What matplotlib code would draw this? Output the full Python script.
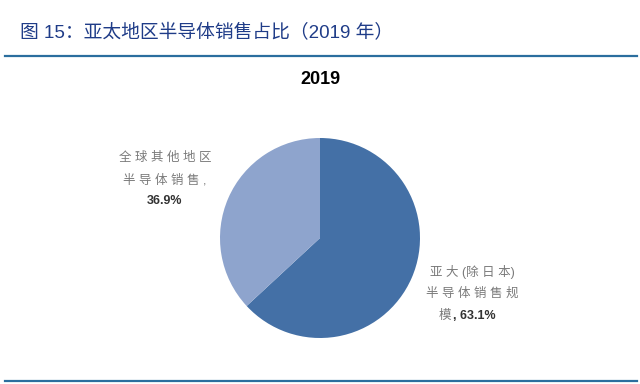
import matplotlib.pyplot as plt
from matplotlib.lines import Line2D

plt.rcParams['font.family'] = ['Liberation Sans', 'Noto Sans CJK SC', 'DejaVu Sans']

# 数据
regions = ['亚太(除日本)半导体销售规模', '全球其他地区半导体销售']
shares = [63.1, 36.9]
colors = ['#4470A6', '#8EA4CD']
year = '2019'

W, H = 640, 384
fig = plt.figure(figsize=(W / 100, H / 100), dpi=100)

# 标题及分隔线
fig.text(20 / W, 1 - 33 / H, '图 15：亚太地区半导体销售占比（2019 年）',
         fontsize=13.5, color='#1F3C88', va='center', ha='left')
fig.add_artist(Line2D([5 / W, 637 / W], [1 - 56 / H, 1 - 56 / H],
                      color='#2B6E9E', lw=1.6))
fig.add_artist(Line2D([5 / W, 637 / W], [1 - 381 / H, 1 - 381 / H],
                      color='#2B6E9E', lw=1.6))

# 饼图
cx, cy, r = 320, 238, 100
ax = fig.add_axes([(cx - r) / W, 1 - (cy + r) / H, 2 * r / W, 2 * r / H])
ax.pie(shares, colors=colors, startangle=90, counterclock=False,
       wedgeprops=dict(linewidth=0))
ax.set_xlim(-1, 1)
ax.set_ylim(-1, 1)
ax.set_aspect('equal')
ax.axis('off')

fig.text(cx / W, 1 - 80 / H, year, fontsize=13, fontweight='bold',
         color='#000000', ha='center', va='center')

# 标签
gray = '#7A7A7A'
fs = 9
fig.text(165 / W, 1 - 158 / H, '全 球 其 他 地 区', fontsize=fs, color=gray,
         ha='center', va='center')
fig.text(165 / W, 1 - 180 / H, '半 导 体 销 售 ,', fontsize=fs, color=gray,
         ha='center', va='center')
fig.text(165 / W, 1 - 201 / H, f'{shares[1]:.1f}%', fontsize=fs,
         fontweight='bold', color='#333333', ha='center', va='center')

fig.text(472 / W, 1 - 272 / H, '亚 大 (除 日 本)', fontsize=fs, color=gray,
         ha='center', va='center')
fig.text(472 / W, 1 - 294 / H, '半 导 体 销 售 规', fontsize=fs, color=gray,
         ha='center', va='center')
fig.text(445 / W, 1 - 316 / H, '模', fontsize=fs, color=gray,
         ha='center', va='center')
fig.text(453 / W, 1 - 316 / H, f', {shares[0]:.1f}%', fontsize=fs,
         fontweight='bold', color='#333333', ha='left', va='center')

fig.savefig('out.png', dpi=100)
